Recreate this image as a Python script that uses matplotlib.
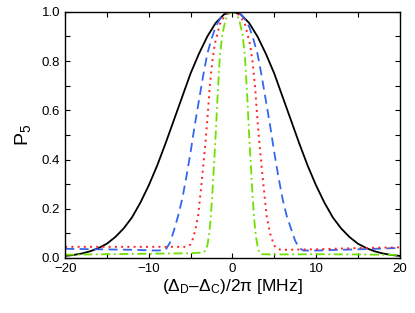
import matplotlib
matplotlib.use("Agg")
import matplotlib.pyplot as plt
from matplotlib.ticker import MultipleLocator

plt.rcParams['font.family'] = ['Liberation Sans', 'DejaVu Sans']
plt.rcParams['mathtext.fontset'] = 'custom'
plt.rcParams['mathtext.rm'] = 'Liberation Sans'
plt.rcParams['mathtext.it'] = 'Liberation Sans'
plt.rcParams['mathtext.default'] = 'regular'

# black solid curve
x_black = [-20, -19, -18, -17, -16, -15, -14, -13, -12, -11, -10, -9, -8, -7, -6, -5, -4, -3, -2, -1, 0,
           1, 2, 3, 4, 5, 6, 7, 8, 9, 10, 11, 12, 13, 14, 15, 16, 17, 18, 19, 20]
p_black = [0.008, 0.012, 0.018, 0.027, 0.04, 0.058, 0.085, 0.12, 0.165, 0.225, 0.295, 0.375, 0.465, 0.56,
           0.655, 0.75, 0.83, 0.9, 0.955, 0.99, 1.0,
           0.99, 0.955, 0.9, 0.83, 0.75, 0.655, 0.56, 0.465, 0.375, 0.295, 0.225, 0.165, 0.12, 0.085,
           0.058, 0.04, 0.027, 0.018, 0.012, 0.008]

# blue dashed curve
x_blue = [-20, -16, -12, -9, -8, -7.5, -7, -6.5, -6, -5.5, -5, -4.5, -4, -3.5, -3, -2.5, -2, -1.5, -1, -0.5, 0,
          0.5, 1, 1.5, 2, 2.5, 3, 3.5, 4, 4.5, 5, 5.5, 6, 6.5, 7, 7.5, 8, 8.5, 10, 12, 15, 18, 20]
p_blue = [0.037, 0.035, 0.033, 0.030, 0.032, 0.06, 0.11, 0.17, 0.24, 0.33, 0.43, 0.54, 0.64, 0.74, 0.83,
          0.89, 0.94, 0.97, 0.99, 0.998, 1.0,
          0.998, 0.99, 0.97, 0.94, 0.89, 0.83, 0.74, 0.64, 0.54, 0.43, 0.33, 0.24, 0.17, 0.12, 0.07,
          0.04, 0.03, 0.03, 0.032, 0.035, 0.038, 0.041]

# red dotted curve
x_red = [-20, -6, -5.5, -5, -4.7, -4.4, -4.1, -3.7, -3.3, -3, -2.7, -2.4, -2.1, -1.5, -1, -0.5, 0,
         0.5, 1, 1.5, 2.1, 2.4, 2.7, 3, 3.3, 3.7, 4.1, 4.5, 5, 5.5, 6, 10, 15, 20]
p_red = [0.045, 0.045, 0.045, 0.055, 0.08, 0.12, 0.17, 0.30, 0.44, 0.56, 0.70, 0.80, 0.87, 0.95, 0.98,
         0.997, 1.0,
         0.997, 0.98, 0.95, 0.87, 0.80, 0.70, 0.56, 0.44, 0.30, 0.17, 0.10, 0.05, 0.035, 0.033, 0.035,
         0.04, 0.043]

# green dash-dot curve
x_green = [-20, -15, -10, -5, -3.5, -3.2, -3, -2.8, -2.6, -2.4, -2.2, -2, -1.8, -1.5, -1.2, -0.8, -0.4, 0,
           0.4, 0.8, 1.2, 1.5, 1.8, 2, 2.2, 2.4, 2.6, 2.8, 3, 3.2, 3.5, 5, 10, 15, 20]
p_green = [0.013, 0.015, 0.017, 0.019, 0.022, 0.03, 0.05, 0.09, 0.16, 0.26, 0.38, 0.50, 0.64, 0.82, 0.91,
           0.97, 0.995, 1.0,
           0.995, 0.97, 0.91, 0.82, 0.64, 0.50, 0.38, 0.26, 0.16, 0.09, 0.05, 0.025, 0.015, 0.014,
           0.015, 0.014, 0.012]

fig = plt.figure(figsize=(4.15, 3.13), dpi=100)
ax = fig.add_axes([0.157, 0.176, 0.806, 0.786])

ax.plot(x_black, p_black, color='black', lw=1.3, ls='-')
ax.plot(x_blue, p_blue, color='#3366f0', lw=1.3, ls=(0, (5, 3)))
ax.plot(x_red, p_red, color='#ff2020', lw=1.4, ls=(0, (1, 2.2)))
ax.plot(x_green, p_green, color='#70e000', lw=1.3, ls=(0, (5, 2, 1, 2)))

ax.set_xlim(-20, 20)
ax.set_ylim(0, 1.0)
ax.xaxis.set_major_locator(MultipleLocator(10))
ax.xaxis.set_minor_locator(MultipleLocator(5))
ax.yaxis.set_major_locator(MultipleLocator(0.2))
ax.yaxis.set_minor_locator(MultipleLocator(0.1))
ax.yaxis.set_major_formatter(matplotlib.ticker.FormatStrFormatter('%.1f'))
ax.tick_params(which='both', direction='in', top=True, right=True, length=3.5, width=0.8,
               labelsize=9.5)
ax.tick_params(axis='x', pad=4)
for s in ax.spines.values():
    s.set_linewidth(1.0)

ax.set_xlabel(r'($\Delta_D$–$\Delta_C$)/2$\pi$ [MHz]', fontsize=12.5, labelpad=1)
ax.set_ylabel(r'P$_5$', fontsize=14, labelpad=6)

fig.savefig('out.png', dpi=100)
